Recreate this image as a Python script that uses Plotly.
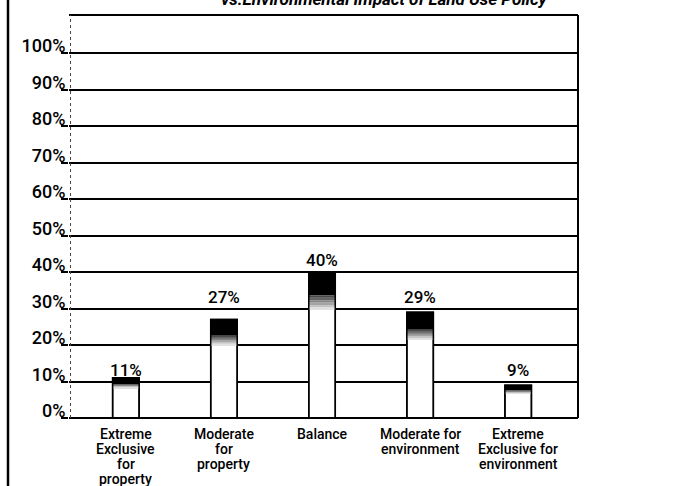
import plotly.graph_objects as go

# ---- data -------------------------------------------------------------
categories = [
    "Extreme\nExclusive\nfor\nproperty",
    "Moderate\nfor\nproperty",
    "Balance",
    "Moderate for\nenvironment",
    "Extreme\nExclusive for\nenvironment",
]
values = [11, 27, 40, 29, 9]
y_tick_values = [0, 10, 20, 30, 40, 50, 60, 70, 80, 90, 100]
y_tick_labels = ["0%", "10%", "20%", "30%", "40%", "50%", "60%", "70%", "80%", "90%", "100%"]
title_text = "vs.Environmental Impact of Land Use Policy"

# ---- layout constants ---------------------------------------------------
W, H = 673, 486
ML, MR, MT, MB = 69, 95, 15, 68
PLOT_W = W - ML - MR
PLOT_H = H - MT - MB
FONT = "Roboto, Liberation Sans, sans-serif"
BAR_W = 0.27
idx = list(range(len(categories)))

fig = go.Figure()

# white column body with a black outline
fig.add_bar(
    x=idx, y=values, width=BAR_W,
    marker=dict(color="white", line=dict(color="black", width=1.5)),
    hoverinfo="skip", showlegend=False,
)

# dark cap fading into the white body (stack of grey bands)
BLACK_FRAC = 0.16
FADE_FRAC = 0.10
FADE_STEPS = 6
fig.add_bar(
    x=idx,
    y=[v * BLACK_FRAC for v in values],
    base=[v * (1 - BLACK_FRAC) for v in values],
    width=BAR_W,
    marker=dict(color="black", line=dict(width=0)),
    hoverinfo="skip", showlegend=False,
)
for k in range(FADE_STEPS):
    g = int(70 + (225 - 70) * k / (FADE_STEPS - 1))
    fig.add_bar(
        x=idx,
        y=[v * FADE_FRAC / FADE_STEPS for v in values],
        base=[v * (1 - BLACK_FRAC - FADE_FRAC * (k + 1) / FADE_STEPS) for v in values],
        width=BAR_W,
        marker=dict(color=f"rgb({g},{g},{g})", line=dict(width=0)),
        hoverinfo="skip", showlegend=False,
    )

# outline redrawn on top of the shading
fig.add_bar(
    x=idx, y=values, width=BAR_W,
    marker=dict(color="rgba(0,0,0,0)", line=dict(color="black", width=1.5)),
    hoverinfo="skip", showlegend=False,
)

annotations = []
# value labels resting on the nearest grid line
for i, v in enumerate(values):
    row = round(v / 10) * 10
    annotations.append(dict(
        x=i, y=row, xref="x", yref="y", text=f"{v}%", showarrow=False,
        yanchor="bottom", yshift=0,
        font=dict(family=FONT, size=17, color="black", weight=500),
    ))

# category captions, one annotation per line for tight leading
for i, cat in enumerate(categories):
    for k, line in enumerate(cat.split("\n")):
        annotations.append(dict(
            x=i, y=0, xref="x", yref="y", text=line, showarrow=False,
            yanchor="top", yshift=-(6 + 15 * k),
            font=dict(family=FONT, size=14, color="black", weight=500),
        ))

# heading, partly running off the top edge
annotations.append(dict(
    x=0.62, y=1, xref="paper", yref="paper", text=f"<b><i>{title_text}</i></b>",
    showarrow=False, yanchor="middle", yshift=MT + 1,
    font=dict(family=FONT, size=17, color="black"),
))

shapes = [
    # frame around the plot
    dict(type="line", xref="paper", yref="paper", x0=0, x1=1, y0=1, y1=1,
         line=dict(color="black", width=2)),
    dict(type="line", xref="paper", yref="paper", x0=1, x1=1, y0=0, y1=1,
         line=dict(color="black", width=2)),
    dict(type="line", xref="paper", yref="paper", x0=0, x1=1, y0=0, y1=0,
         line=dict(color="black", width=2)),
    dict(type="line", xref="paper", yref="paper", x0=0.003, x1=0.003, y0=0, y1=1,
         line=dict(color="#444", width=1, dash="dot")),
    # page edge on the left
    dict(type="line", xref="paper", yref="paper",
         x0=(8 - ML) / PLOT_W, x1=(8 - ML) / PLOT_W,
         y0=-MB / PLOT_H, y1=1 + MT / PLOT_H,
         line=dict(color="black", width=2.5)),
]

fig.update_layout(
    width=W, height=H,
    margin=dict(l=ML, r=MR, t=MT, b=MB),
    paper_bgcolor="white", plot_bgcolor="white",
    barmode="overlay",
    showlegend=False,
    annotations=annotations,
    shapes=shapes,
    xaxis=dict(range=[-0.58, 4.61], showticklabels=False, showgrid=False,
               zeroline=False, showline=False, ticks=""),
    yaxis=dict(
        range=[0, PLOT_H / 3.65],
        tickvals=y_tick_values, ticktext=y_tick_labels,
        showgrid=True, gridcolor="black", gridwidth=1.6,
        zeroline=False, showline=False,
        ticks="outside", ticklen=7, tickcolor="black", tickwidth=1.6,
        ticklabelstandoff=-8, ticklabelshift=-7,
        tickfont=dict(family=FONT, size=18, color="black", weight=500),
    ),
)

fig.write_html("out.html")
